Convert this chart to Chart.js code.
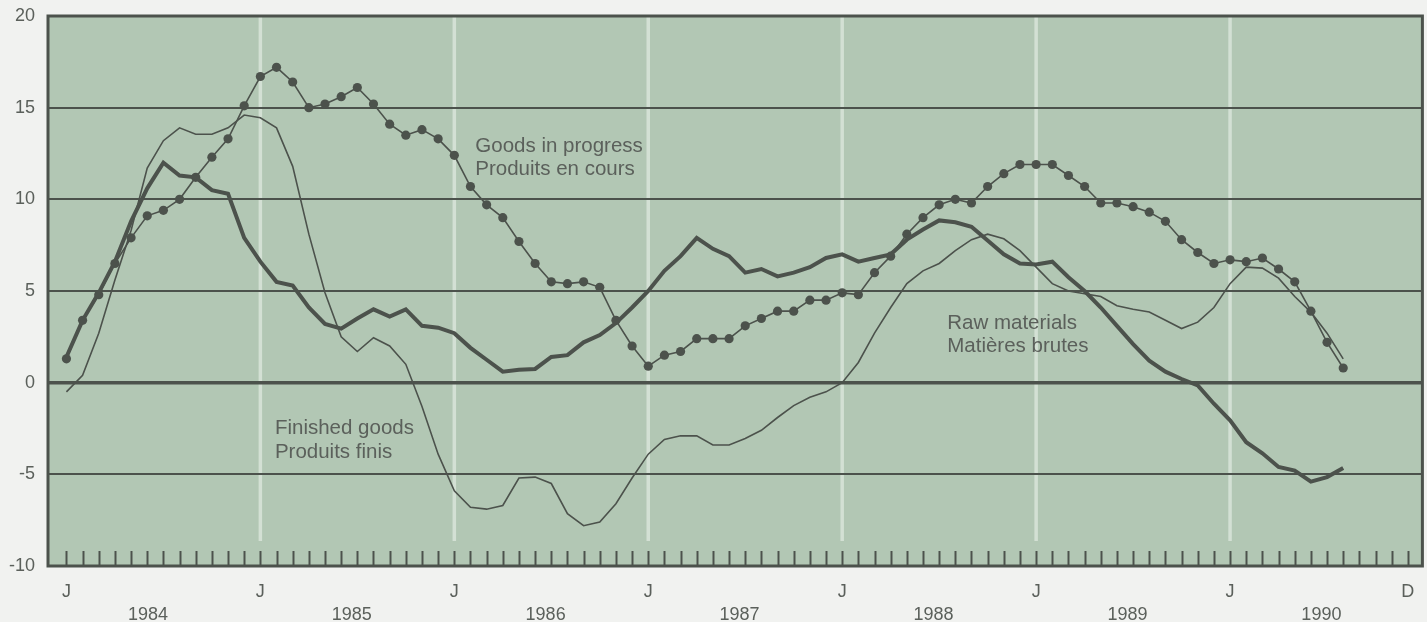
<!DOCTYPE html>
<html>
<head>
<meta charset="utf-8">
<script src="https://cdn.jsdelivr.net/npm/chart.js@4.4.1/dist/chart.umd.min.js"></script>
<style>
    html, body { margin: 0; padding: 0; background: #f1f2f0; }
    #wrap { width: 1427px; height: 622px; }
</style>
</head>
<body>
<div id="wrap"><canvas id="stocksChart" width="1427" height="622"></canvas></div>
<script>
// monthly data, Jan 1984 .. Aug 1990
const years = ['1984', '1985', '1986', '1987', '1988', '1989', '1990'];
const monthInitials = ['J', 'F', 'M', 'A', 'M', 'J', 'J', 'A', 'S', 'O', 'N', 'D'];

const goodsInProgress = [
    1.3, 3.4, 4.8, 6.5, 7.9, 9.1, 9.4, 10.0, 11.2, 12.3, 13.3, 15.1,
    16.7, 17.2, 16.4, 15.0, 15.2, 15.6, 16.1, 15.2, 14.1, 13.5, 13.8, 13.3,
    12.4, 10.7, 9.7, 9.0, 7.7, 6.5, 5.5, 5.4, 5.5, 5.2, 3.4, 2.0,
    0.9, 1.5, 1.7, 2.4, 2.4, 2.4, 3.1, 3.5, 3.9, 3.9, 4.5, 4.5,
    4.9, 4.8, 6.0, 6.9, 8.1, 9.0, 9.7, 10.0, 9.8, 10.7, 11.4, 11.9,
    11.9, 11.9, 11.3, 10.7, 9.8, 9.8, 9.6, 9.3, 8.8, 7.8, 7.1, 6.5,
    6.7, 6.6, 6.8, 6.2, 5.5, 3.9, 2.2, 0.8
];
const rawMaterials = [
    1.4, 3.4, 4.9, 6.6, 8.8, 10.6, 12.0, 11.3, 11.2, 10.5, 10.3, 7.9,
    6.6, 5.5, 5.3, 4.1, 3.2, 2.95, 3.5, 4.0, 3.6, 4.0, 3.1, 3.0,
    2.7, 1.9, 1.25, 0.6, 0.7, 0.75, 1.4, 1.5, 2.2, 2.6, 3.25, 4.1,
    5.0, 6.1, 6.9, 7.9, 7.3, 6.9, 6.0, 6.2, 5.8, 6.0, 6.3, 6.8,
    7.0, 6.6, 6.8, 7.0, 7.8, 8.35, 8.85, 8.75, 8.5, 7.75, 7.0, 6.5,
    6.45, 6.6, 5.75, 5.0, 4.1, 3.1, 2.1, 1.2, 0.6, 0.2, -0.15, -1.15,
    -2.05, -3.25, -3.85, -4.6, -4.8, -5.4, -5.15, -4.65
];
const finishedGoods = [
    -0.5, 0.4, 2.7, 5.6, 8.3, 11.7, 13.2, 13.9, 13.55, 13.55, 13.9, 14.6,
    14.45, 13.9, 11.8, 8.1, 4.9, 2.5, 1.7, 2.45, 2.0, 1.0, -1.3, -3.9,
    -5.9, -6.8, -6.9, -6.7, -5.2, -5.15, -5.5, -7.15, -7.8, -7.6, -6.6, -5.2,
    -3.9, -3.1, -2.9, -2.9, -3.4, -3.4, -3.05, -2.6, -1.9, -1.25, -0.8, -0.5,
    0.0, 1.1, 2.7, 4.1, 5.4, 6.1, 6.5, 7.2, 7.8, 8.1, 7.85, 7.2,
    6.3, 5.4, 5.0, 4.85, 4.7, 4.2, 4.0, 3.85, 3.4, 2.95, 3.3, 4.1,
    5.4, 6.3, 6.25, 5.7, 4.7, 3.85, 2.7, 1.3
];

const seriesNotes = [
    ['Goods in progress', 'Produits en cours'],
    ['Finished goods', 'Produits finis'],
    ['Raw materials', 'Matières brutes']
];

// month categories on the x axis (index 0 = Jan 1984)
const months = [];
years.forEach(yr => monthInitials.forEach(m => months.push(m + ' ' + yr)));

const toPoints = values => values.map((v, i) => ({ x: i, y: v }));

const INK = '#4c524c';
const TEXT = '#5b605b';
const PLOT_BG = '#b2c7b4';
const FONT = '"Liberation Sans", Arial, sans-serif';

// where the series labels sit, in data units (month index, value)
const noteAnchors = [[25.3, 12.9], [12.9, -2.5], [54.5, 3.25]];

// x tick value -> label lines (J at each January, D at the end, year under each year)
const xTickText = new Map();

const framePlugin = {
    id: 'frame',
    beforeDraw(chart) {
        const { ctx, chartArea: a, scales: { x } } = chart;
        ctx.save();
        ctx.fillStyle = PLOT_BG;
        ctx.fillRect(a.left, a.top, a.right - a.left, a.bottom - a.top);
        // pale January lines
        ctx.strokeStyle = '#d3e0d4';
        ctx.lineWidth = 3.5;
        for (let m = 12; m < months.length; m += 12) {
            const px = x.getPixelForValue(m);
            ctx.beginPath();
            ctx.moveTo(px, a.top);
            ctx.lineTo(px, a.bottom - 25);
            ctx.stroke();
        }
        ctx.restore();
    },
    afterDatasetsDraw(chart) {
        const { ctx, chartArea: a, scales: { x, y } } = chart;
        ctx.save();
        // month ticks along the bottom
        ctx.strokeStyle = INK;
        ctx.lineWidth = 2;
        for (let m = 0; m < months.length; m++) {
            const px = Math.round(x.getPixelForValue(m)) + 0.5;
            ctx.beginPath();
            ctx.moveTo(px, a.bottom - 15);
            ctx.lineTo(px, a.bottom);
            ctx.stroke();
        }
        // frame
        ctx.lineWidth = 3;
        ctx.strokeRect(a.left, a.top, a.right - a.left, a.bottom - a.top);
        // series labels
        ctx.fillStyle = TEXT;
        ctx.font = '20.5px ' + FONT;
        ctx.textBaseline = 'middle';
        ctx.textAlign = 'left';
        seriesNotes.forEach((lines, k) => {
            const px = x.getPixelForValue(noteAnchors[k][0]);
            const py = y.getPixelForValue(noteAnchors[k][1]);
            lines.forEach((t, j) => ctx.fillText(t, px, py + j * 23.6));
        });
        ctx.restore();
    }
};

const ctx = document.getElementById('stocksChart').getContext('2d');
new Chart(ctx, {
    type: 'line',
    data: {
        datasets: [
            {
                label: 'Finished goods',
                data: toPoints(finishedGoods),
                borderColor: INK,
                borderWidth: 1.6,
                pointRadius: 0,
                tension: 0
            },
            {
                label: 'Raw materials',
                data: toPoints(rawMaterials),
                borderColor: INK,
                borderWidth: 4,
                pointRadius: 0,
                tension: 0
            },
            {
                label: 'Goods in progress',
                data: toPoints(goodsInProgress),
                borderColor: INK,
                borderWidth: 1.6,
                pointRadius: 4.6,
                pointBorderWidth: 0,
                pointBackgroundColor: INK,
                tension: 0
            }
        ]
    },
    options: {
        responsive: false,
        animation: false,
        layout: { padding: { top: 16, right: 4, left: 0, bottom: 0 } },
        plugins: { legend: { display: false }, tooltip: { enabled: false } },
        scales: {
            x: {
                type: 'linear',
                min: -1.14,
                max: 83.9,
                afterFit: s => {
                    s.height = 56;
                    s.paddingLeft = 0;
                    s.paddingRight = 0;
                },
                afterBuildTicks: s => {
                    xTickText.clear();
                    years.forEach((yr, k) => {
                        xTickText.set(k * 12, ['J']);
                        xTickText.set(k * 12 + (k === 0 ? 5.05 : 5.65), ['', yr]);
                    });
                    xTickText.set(months.length - 1, ['D']);
                    s.ticks = [...xTickText.keys()].sort((p, q) => p - q).map(v => ({ value: v }));
                },
                grid: { display: false, drawTicks: false },
                border: { display: false },
                ticks: {
                    autoSkip: false,
                    maxRotation: 0,
                    minRotation: 0,
                    padding: 14,
                    color: TEXT,
                    font: { family: FONT, size: 18, lineHeight: 1.3 },
                    callback: v => xTickText.get(v) || ''
                }
            },
            y: {
                min: -10,
                max: 20,
                afterFit: s => {
                    s.width = 48;
                    s.paddingTop = 0;
                    s.paddingBottom = 0;
                },
                border: { display: false },
                grid: {
                    drawTicks: false,
                    color: c => (c.tick.value === 20 || c.tick.value === -10) ? 'rgba(0,0,0,0)' : INK,
                    lineWidth: c => c.tick.value === 0 ? 3.5 : 2
                },
                ticks: {
                    stepSize: 5,
                    padding: 13,
                    color: TEXT,
                    font: { family: FONT, size: 18 }
                }
            }
        }
    },
    plugins: [framePlugin]
});
</script>
</body>
</html>
